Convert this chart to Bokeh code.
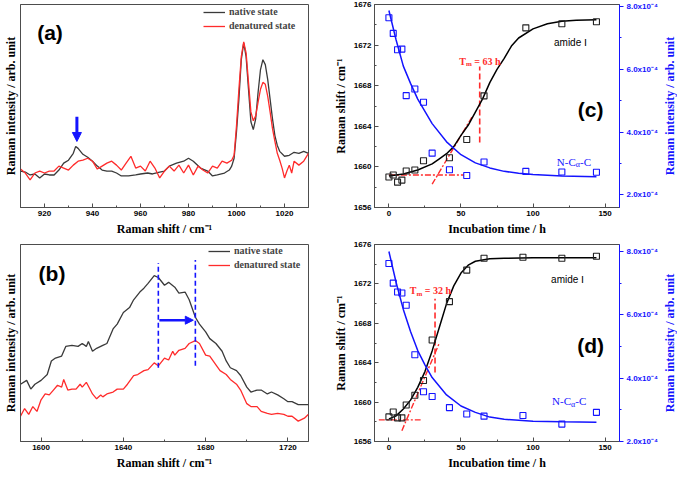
import math
from bokeh.plotting import figure
from bokeh.layouts import column, row
from bokeh.models import Range1d, LinearAxis, FixedTicker, Arrow, NormalHead
from bokeh.core.properties import value
from bokeh.embed import file_html
from bokeh.resources import INLINE

SERIF = "Liberation Serif"
SANS = "Liberation Sans"
C_BLACK = "#3a3a3a"
C_RED = "#ff2b2b"
C_BLUE = "#1414ff"
C_FRAME = "#4d4d4d"

# ---------------- panel (a): 910-1030 cm-1 spectra (arb. units) ----------------
A_X_NAT = [910, 912, 914, 916, 918, 920, 922, 924, 926, 928, 930, 932, 933, 934, 936, 938, 940, 942, 944, 946,
           948, 950, 952, 955, 958, 960, 963, 965, 968, 970, 972, 975, 978, 980, 982, 985, 988, 990, 992, 995,
           997, 998, 999, 1000, 1001, 1002, 1003, 1004, 1005, 1006, 1007, 1008, 1009, 1010, 1011, 1012, 1013,
           1014, 1015, 1016, 1017, 1018, 1020, 1022, 1024, 1026, 1028, 1030]
A_Y_NAT = [37, 36, 33, 34, 30, 34, 33, 33, 38, 45, 48, 55, 62, 60, 54, 51, 47, 42, 38, 37,
           37, 35, 32, 32, 33, 34, 35, 34, 36, 37, 42, 45, 47, 50, 47, 40, 37, 32, 33, 35,
           38, 42, 50, 77, 110, 150, 167, 153, 120, 87, 79, 90, 117, 140, 150, 145, 130,
           110, 90, 73, 63, 57, 52, 53, 56, 55, 57, 55]
A_X_DEN = [910, 912, 914, 916, 918, 920, 922, 924, 926, 928, 930, 932, 934, 936, 938, 940, 942, 944, 946, 948,
           950, 952, 954, 956, 958, 960, 962, 964, 966, 968, 970, 972, 974, 976, 978, 980, 982, 984, 986, 988,
           990, 992, 994, 996, 998, 999, 1000, 1001, 1002, 1003, 1004, 1005, 1006, 1007, 1008, 1009, 1010,
           1011, 1012, 1013, 1014, 1015, 1016, 1017, 1018, 1019, 1020, 1021, 1022, 1023, 1024, 1026, 1028, 1030]
A_Y_DEN = [39, 35, 28, 35, 37, 35, 37, 37, 42, 40, 38, 43, 47, 48, 50, 47, 39, 42, 45, 47,
           43, 38, 45, 52, 40, 42, 37, 47, 40, 30, 37, 42, 37, 43, 35, 43, 33, 42, 38, 35,
           42, 40, 47, 45, 48, 53, 83, 120, 153, 168, 157, 127, 97, 88, 93, 107, 120,
           127, 125, 113, 97, 80, 67, 55, 48, 40, 30, 37, 43, 35, 47, 43, 47, 55]
A_TICKS = [920, 940, 960, 980, 1000, 1020]
A_MINOR = [930, 950, 970, 990, 1010, 1030]
A_ARROW = [933.5, 92, 67]          # x, y_start, y_end

# ---------------- panel (b): 1590-1730 cm-1 spectra (arb. units) ----------------
B_X_NAT = [1590, 1593, 1595, 1597, 1600, 1603, 1605, 1607, 1610, 1612, 1615, 1618, 1620, 1622, 1623, 1625,
           1627, 1630, 1632, 1635, 1637, 1640, 1643, 1645, 1648, 1650, 1652, 1655, 1657, 1660, 1662, 1665,
           1667, 1670, 1672, 1675, 1677, 1680, 1682, 1685, 1688, 1690, 1692, 1695, 1697, 1700, 1702, 1705,
           1707, 1710, 1712, 1715, 1718, 1720, 1722, 1725, 1728, 1730]
B_Y_NAT = [59, 63, 54, 59, 63, 69, 83, 86, 88, 98, 99, 98, 101, 98, 103, 93,
           96, 99, 101, 116, 121, 133, 138, 146, 154, 158, 163, 171, 169, 161, 164, 159,
           153, 154, 146, 128, 121, 113, 106, 101, 93, 83, 76, 73, 68, 56, 51, 53,
           53, 49, 51, 48, 44, 41, 41, 38, 38, 38]
B_X_DEN = [1590, 1592, 1594, 1596, 1598, 1600, 1602, 1604, 1606, 1608, 1610, 1611, 1613, 1615, 1617, 1619,
           1620, 1622, 1624, 1625, 1627, 1629, 1630, 1632, 1635, 1637, 1640, 1642, 1645, 1647, 1650, 1652,
           1655, 1657, 1660, 1662, 1664, 1665, 1667, 1670, 1672, 1675, 1677, 1680, 1682, 1685, 1687, 1690,
           1692, 1695, 1697, 1700, 1702, 1705, 1707, 1710, 1712, 1715, 1718, 1720, 1722, 1725, 1728, 1730]
B_Y_DEN = [26, 34, 28, 36, 31, 43, 49, 48, 53, 58, 56, 64, 53, 54, 54, 59,
           56, 61, 53, 49, 44, 48, 46, 49, 51, 54, 54, 59, 68, 69, 73, 74,
           81, 78, 86, 84, 93, 89, 94, 96, 101, 104, 101, 89, 88, 79, 73, 69,
           64, 59, 53, 39, 36, 36, 31, 29, 28, 29, 28, 26, 26, 21, 24, 28]
B_TICKS = [1600, 1640, 1680, 1720]
B_MINOR = [1620, 1660, 1700]
B_VLINES = [1657, 1675]
B_VLINE_Y = [[76, 184], [78, 187]]
B_ARROW = [1657.5, 1674, 125]       # x_start, x_end, y

# ---------------- panel (c) ----------------
C_T = [0, 3, 6, 9, 12, 18, 24, 42, 54, 66, 95, 120, 144]
C_AMIDE = [1659.0, 1659.2, 1658.5, 1658.7, 1659.6, 1659.7, 1660.6, 1660.9, 1662.7, 1667.0, 1673.7, 1674.1, 1674.3]
C_T_NCA = [0, 3, 6, 9, 12, 18, 24, 30, 42, 54, 66, 95, 120, 144]
C_NCA = [7.64, 7.14, 6.62, 6.64, 5.16, 5.37, 4.95, 3.33, 2.80, 2.62, 3.05, 2.75, 2.73, 2.72]   # x1e-4
C_FIT_T = [0, 10, 20, 30, 35, 40, 45, 50, 55, 60, 65, 70, 75, 80, 85, 90, 100, 110, 120, 130, 144]
C_FIT_AMIDE = [1659.1, 1659.3, 1659.7, 1660.3, 1660.8, 1661.3, 1662.0, 1663.1, 1664.1, 1665.4, 1666.7,
               1668.3, 1669.6, 1670.7, 1671.9, 1672.7, 1673.6, 1674.1, 1674.35, 1674.45, 1674.5]
C_FIT_NCA_T = [0, 5, 10, 15, 20, 30, 40, 50, 60, 70, 80, 90, 100, 120, 144]
C_FIT_NCA = [7.87, 6.93, 6.10, 5.55, 5.05, 4.27, 3.69, 3.28, 3.02, 2.86, 2.75, 2.69, 2.65, 2.60, 2.58]
C_BASE = [[0, 52], [1659.2, 1659.2]]
C_TAN = [[30, 58], [1658.3, 1665.0]]
C_TM = [63, 1662.4, 1669.9]
C_TM_LABEL = [48.8, 1670.4, "63 h"]

# ---------------- panel (d) ----------------
D_T = [0, 3, 6, 9, 12, 18, 24, 30, 42, 54, 66, 93, 120, 144]
D_AMIDE = [1658.5, 1659.0, 1658.4, 1658.4, 1659.7, 1660.7, 1662.2, 1666.3, 1670.2, 1673.4, 1674.6, 1674.7, 1674.6, 1674.8]
D_NCA = [7.62, 7.00, 6.72, 6.69, 6.30, 4.74, 3.57, 3.42, 3.07, 2.87, 2.80, 2.82, 2.55, 2.92]   # x1e-4
D_FIT_T = [0, 5, 10, 15, 20, 25, 30, 35, 40, 45, 50, 55, 60, 70, 80, 100, 144]
D_FIT_AMIDE = [1658.3, 1658.6, 1659.3, 1660.2, 1661.5, 1663.1, 1665.2, 1667.6, 1670.0, 1671.8, 1673.1,
               1673.9, 1674.3, 1674.55, 1674.6, 1674.65, 1674.65]
D_FIT_NCA_T = [0, 5, 10, 15, 20, 25, 30, 40, 50, 60, 70, 80, 100, 120, 144]
D_FIT_NCA = [8.0, 7.02, 6.17, 5.47, 4.87, 4.42, 4.02, 3.47, 3.12, 2.92, 2.77, 2.70, 2.64, 2.62, 2.61]
D_BASE = [[-7, 22], [1658.2, 1658.2]]
D_TAN = [[9, 35], [1657.1, 1666.0]]
D_TM = [32, 1663.0, 1670.5]
D_TM_LABEL = [14.5, 1671.3, "32 h"]

T_TICKS = [0, 50, 100, 150]
T_MINOR = [25, 75, 125]
S_TICKS = [1656, 1660, 1664, 1668, 1672, 1676]
S_MINOR = [1658, 1662, 1666, 1670, 1674]
I_TICKS = [2, 4, 6, 8]
I_MINOR = [3, 5, 7]
I_LABELS = {2: "2.0x10⁻⁴", 4: "4.0x10⁻⁴", 6: "6.0x10⁻⁴", 8: "8.0x10⁻⁴"}
RIGHT_TITLE = "Raman intensity / arb. unit"


def style_axis(ax, color="black", line=C_FRAME, inward=True):
    ax.axis_line_color = line
    ax.major_tick_line_color = line
    ax.minor_tick_line_color = line
    if inward:
        ax.major_tick_in, ax.major_tick_out = 4, 0
        ax.minor_tick_in, ax.minor_tick_out = 2, 0
    else:
        ax.major_tick_in, ax.major_tick_out = 0, 4
        ax.minor_tick_in, ax.minor_tick_out = 0, 2
    ax.major_label_text_font = SANS
    ax.major_label_text_font_size = "8px"
    ax.major_label_text_font_style = "bold"
    ax.major_label_text_color = color
    ax.major_label_standoff = 3
    ax.axis_label_text_font = SERIF
    ax.axis_label_text_font_style = "bold"
    ax.axis_label_text_font_size = "12px"
    ax.axis_label_text_color = color
    ax.axis_label_standoff = 3


def base_fig(width, height, xr, yr, borders):
    l, r, t, b = borders
    p = figure(width=width, height=height, x_range=Range1d(*xr), y_range=Range1d(*yr),
               output_backend="svg", toolbar_location=None,
               min_border_left=l, min_border_right=r, min_border_top=t, min_border_bottom=b)
    p.xgrid.visible = False
    p.ygrid.visible = False
    p.outline_line_color = C_FRAME
    p.outline_line_alpha = 1
    p.outline_line_width = 1
    p.background_fill_color = "white"
    p.border_fill_color = "white"
    for ax in list(p.xaxis) + list(p.yaxis):
        style_axis(ax)
    return p


def txt(p, x, y, s, size, color, font=SERIF, style="normal", align="left", dx=0, dy=0, angle=0):
    p.text(x=[x], y=[y], text=[s], text_font=value(font), text_font_size=size, text_font_style=style,
           text_color=color, text_align=align, text_baseline="middle", x_offset=dx, y_offset=dy, angle=angle)


def style_legend(p, loc):
    lg = p.legend[0]
    lg.location = loc
    lg.border_line_color = None
    lg.background_fill_alpha = 0
    lg.padding = 0
    lg.margin = 0
    lg.spacing = 3
    lg.glyph_width = 22
    lg.glyph_height = 10
    lg.label_height = 10
    lg.label_standoff = 4
    lg.label_text_font = SERIF
    lg.label_text_font_style = "bold"
    lg.label_text_font_size = "10px"


# ---------- (a) ----------
pa = base_fig(330, 238, (910, 1030), (0, 206), (16, 22, 4, 28))
pa.xaxis.ticker = FixedTicker(ticks=A_TICKS, minor_ticks=A_MINOR)
pa.yaxis.ticker = FixedTicker(ticks=[])
pa.xaxis.axis_label = "Raman shift / cm⁻¹"
pa.yaxis.axis_label = "Raman intensity / arb. unit"
pa.line(A_X_NAT, A_Y_NAT, line_color=C_BLACK, line_width=1.3, legend_label="native state")
pa.line(A_X_DEN, A_Y_DEN, line_color=C_RED, line_width=1.3, legend_label="denatured state")
style_legend(pa, (183, 176))
pa.add_layout(Arrow(end=NormalHead(size=9, fill_color=C_BLUE, line_color=C_BLUE),
                    x_start=A_ARROW[0], y_start=A_ARROW[1], x_end=A_ARROW[0], y_end=A_ARROW[2],
                    line_color=C_BLUE, line_width=3))
txt(pa, 922.3, 178, "(a)", "21px", "black", font=SANS, style="bold", align="center")

# ---------- (b) ----------
pb = base_fig(330, 234, (1590, 1730), (0, 203), (16, 22, 6, 28))
pb.xaxis.ticker = FixedTicker(ticks=B_TICKS, minor_ticks=B_MINOR)
pb.yaxis.ticker = FixedTicker(ticks=[])
pb.xaxis.axis_label = "Raman shift / cm⁻¹"
pb.yaxis.axis_label = "Raman intensity / arb. unit"
pb.line(B_X_NAT, B_Y_NAT, line_color=C_BLACK, line_width=1.3, legend_label="native state")
pb.line(B_X_DEN, B_Y_DEN, line_color=C_RED, line_width=1.3, legend_label="denatured state")
style_legend(pb, (188, 171))
for xv, ys in zip(B_VLINES, B_VLINE_Y):
    pb.line([xv, xv], ys, line_color=C_BLUE, line_width=1.6, line_dash="5 3")
pb.add_layout(Arrow(end=NormalHead(size=8, fill_color=C_BLUE, line_color=C_BLUE),
                    x_start=B_ARROW[0], y_start=B_ARROW[2], x_end=B_ARROW[1], y_end=B_ARROW[2],
                    line_color=C_BLUE, line_width=2.5))
txt(pb, 1605.3, 173, "(b)", "21px", "black", font=SANS, style="bold", align="center")


# ---------- (c) & (d) ----------
def kinetics(height, borders, irange, t_amide, amide, t_nca, nca, fit_t, fit_a, fit_nt, fit_n,
             base, tan, tm, tm_label, amide_pos, nca_pos, letter, letter_pos):
    p = base_fig(331, height, (-10, 160), (1656, 1676), borders)
    p.xaxis.ticker = FixedTicker(ticks=T_TICKS, minor_ticks=T_MINOR)
    p.yaxis.ticker = FixedTicker(ticks=S_TICKS, minor_ticks=S_MINOR)
    p.xaxis.axis_label = "Incubation time / h"
    p.yaxis.axis_label = "Raman shift / cm⁻¹"
    p.extra_y_ranges = {"nca": Range1d(*irange)}
    ax = LinearAxis(y_range_name="nca", ticker=FixedTicker(ticks=I_TICKS, minor_ticks=I_MINOR))
    style_axis(ax, color=C_BLUE, line=C_BLUE, inward=False)
    ax.major_label_overrides = I_LABELS
    p.add_layout(ax, "right")
    # red construction lines
    p.line(base[0], base[1], line_color=C_RED, line_width=1.4, line_dash="6 2 2 2")
    p.line(tan[0], tan[1], line_color=C_RED, line_width=1.4, line_dash="6 2 2 2")
    p.line([tm[0], tm[0]], [tm[1], tm[2]], line_color=C_RED, line_width=1.6, line_dash="6 3")
    # fits
    p.line(fit_t, fit_a, line_color="black", line_width=1.5)
    p.line(fit_nt, fit_n, line_color=C_BLUE, line_width=1.5, y_range_name="nca")
    # points
    p.scatter(t_amide, amide, marker="square", size=6, fill_color=None, line_color="#222222", line_width=1.1)
    p.scatter(t_nca, nca, marker="square", size=6, fill_color=None, line_color=C_BLUE, line_width=1.1,
              y_range_name="nca")
    # Tm label
    x0, y0, rest = tm_label
    txt(p, x0, y0, "T", "10px", C_RED, style="bold")
    txt(p, x0, y0, "m", "7px", C_RED, style="bold", dx=6.8, dy=3)
    txt(p, x0, y0, "= " + rest, "10px", C_RED, style="bold", dx=15)
    # amide I label
    txt(p, amide_pos[0], amide_pos[1], "amide Ⅰ", "10px", "black", font=SANS, align="center")
    # N-Calpha-C label
    nx, ny = nca_pos
    txt(p, nx, ny, "N-C", "11px", C_BLUE)
    txt(p, nx, ny, "α", "8px", C_BLUE, dx=18.9, dy=3)
    txt(p, nx, ny, "-C", "11px", C_BLUE, dx=23.3)
    txt(p, letter_pos[0], letter_pos[1], letter, "21px", "black", font=SANS, style="bold", align="center")
    return p


def side_title(height, top, bottom):
    # narrow strip holding the right-hand (blue) axis title, reading bottom-to-top
    p = figure(width=16, height=height, x_range=Range1d(0, 1), y_range=Range1d(0, 1),
               output_backend="svg", toolbar_location=None, x_axis_location=None, y_axis_location=None,
               min_border_left=0, min_border_right=0, min_border_top=top, min_border_bottom=bottom)
    p.xgrid.visible = False
    p.ygrid.visible = False
    p.outline_line_color = None
    p.background_fill_color = "white"
    p.border_fill_color = "white"
    txt(p, 0.5, 0.5, RIGHT_TITLE, "12px", C_BLUE, style="bold", align="center", angle=math.pi / 2)
    return p


pc = kinetics(238, (38, 42, 4, 28), (1.6, 8.06), C_T, C_AMIDE, C_T_NCA, C_NCA,
              C_FIT_T, C_FIT_AMIDE, C_FIT_NCA_T, C_FIT_NCA, C_BASE, C_TAN, C_TM, C_TM_LABEL,
              (126, 1672.3), (116.5, 1660.5), "(c)", (140, 1665.7))
pd = kinetics(234, (38, 42, 6, 28), (2.0, 8.22), D_T, D_AMIDE, D_T, D_NCA,
              D_FIT_T, D_FIT_AMIDE, D_FIT_NCA_T, D_FIT_NCA, D_BASE, D_TAN, D_TM, D_TM_LABEL,
              (124, 1672.4), (113.2, 1660.1), "(d)", (140, 1665.7))
tc = side_title(238, 4, 28)
td = side_title(234, 6, 28)

layout = column(row(pa, pc, tc), row(pb, pd, td))
open("out.html", "w").write(file_html(layout, INLINE))
